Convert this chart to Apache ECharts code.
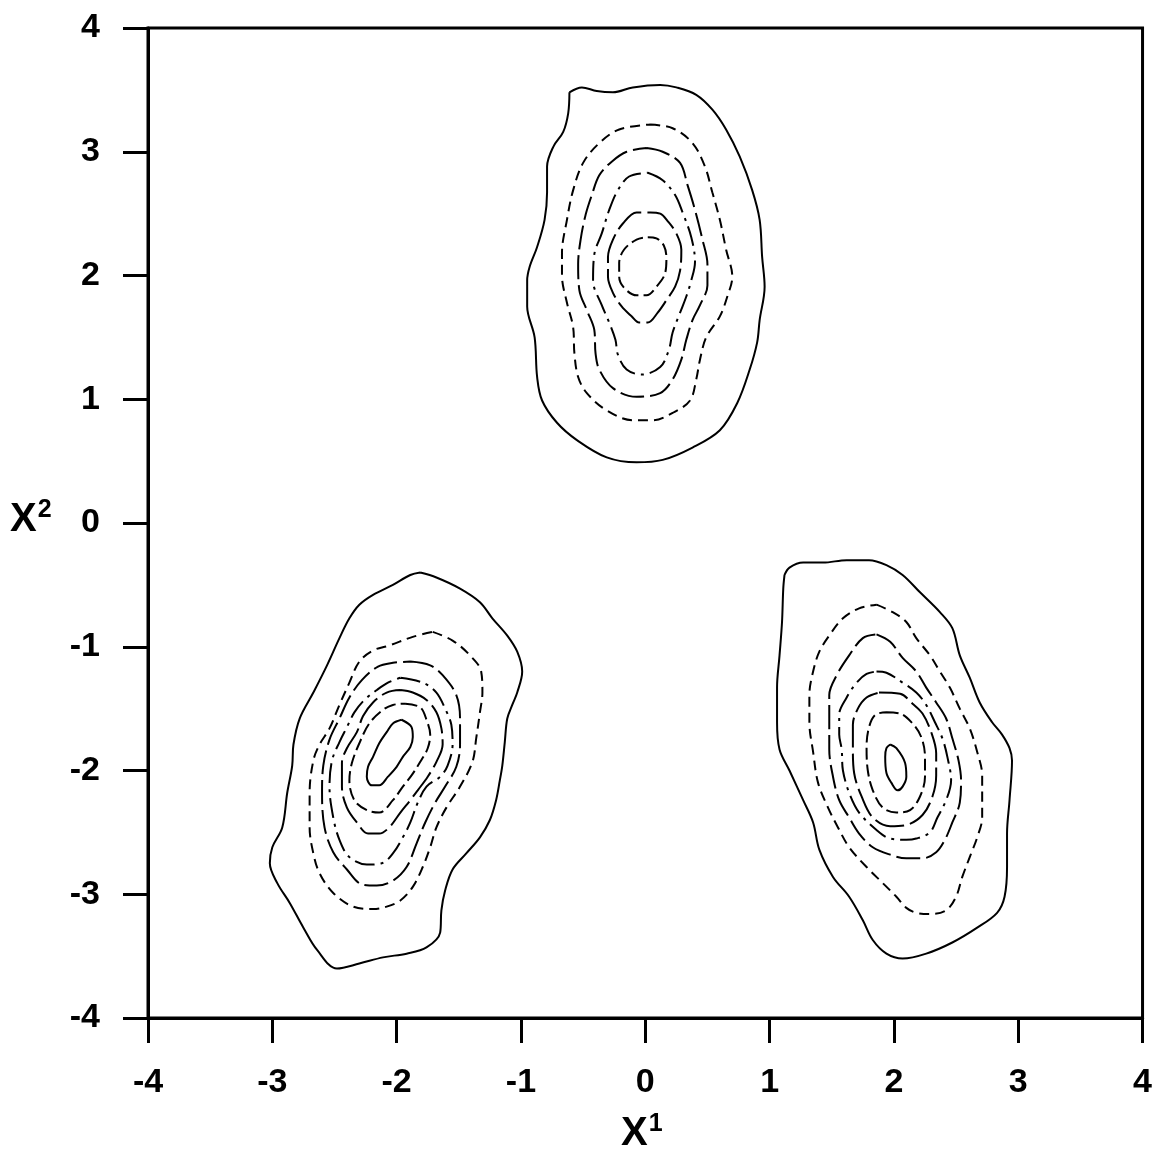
<!DOCTYPE html>
<html>
<head>
<meta charset="utf-8">
<script src="https://cdn.jsdelivr.net/npm/echarts@6/dist/echarts.min.js"></script>
<style>
html,body{margin:0;padding:0;background:#fff;}
#chart{width:1155px;height:1155px;}
</style>
</head>
<body>
<div id="chart"></div>
<script>
// Axis ticks
const xTicks = [-4, -3, -2, -1, 0, 1, 2, 3, 4];
const yTicks = [-4, -3, -2, -1, 0, 1, 2, 3, 4];
const xTitle = ['X', '1'];
const yTitle = ['X', '2'];

// Top cluster contours (outer -> inner), [x1, x2]
const topC1 = [[-0.61,3.48],[-0.51,3.52],[-0.39,3.49],[-0.26,3.48],[-0.10,3.52],[0.12,3.54],[0.25,3.52],[0.41,3.46],[0.54,3.34],[0.65,3.18],[0.76,2.96],[0.86,2.69],[0.92,2.45],[0.94,2.15],[0.96,1.91],[0.92,1.64],[0.90,1.46],[0.84,1.24],[0.74,0.97],[0.60,0.75],[0.38,0.61],[0.14,0.51],[-0.07,0.49],[-0.31,0.53],[-0.55,0.67],[-0.71,0.81],[-0.83,0.99],[-0.87,1.18],[-0.89,1.50],[-0.95,1.75],[-0.95,1.96],[-0.93,2.07],[-0.87,2.23],[-0.81,2.45],[-0.79,2.67],[-0.79,2.88],[-0.74,3.04],[-0.66,3.16],[-0.62,3.31]];
const topC2 = [[0.04,3.22],[0.22,3.19],[0.38,3.07],[0.48,2.88],[0.54,2.67],[0.60,2.45],[0.65,2.21],[0.70,1.99],[0.66,1.83],[0.60,1.67],[0.49,1.50],[0.44,1.32],[0.41,1.16],[0.36,0.99],[0.22,0.89],[0.06,0.83],[-0.10,0.83],[-0.31,0.91],[-0.47,1.05],[-0.54,1.18],[-0.57,1.37],[-0.58,1.58],[-0.63,1.78],[-0.67,2.00],[-0.67,2.18],[-0.63,2.45],[-0.58,2.69],[-0.50,2.91],[-0.37,3.07],[-0.21,3.18]];
const topC3 = [[0.01,3.03],[0.14,3.00],[0.28,2.91],[0.34,2.73],[0.40,2.53],[0.46,2.29],[0.50,2.09],[0.50,1.92],[0.44,1.76],[0.38,1.64],[0.33,1.48],[0.29,1.32],[0.22,1.16],[0.12,1.05],[-0.07,1.02],[-0.26,1.09],[-0.37,1.24],[-0.40,1.37],[-0.41,1.56],[-0.47,1.72],[-0.53,1.88],[-0.54,2.09],[-0.52,2.29],[-0.48,2.49],[-0.43,2.65],[-0.37,2.81],[-0.27,2.92],[-0.15,3.00]];
const topC4 = [[0.02,2.83],[0.14,2.77],[0.24,2.65],[0.30,2.51],[0.37,2.31],[0.40,2.11],[0.37,1.96],[0.33,1.83],[0.28,1.70],[0.22,1.54],[0.19,1.40],[0.12,1.26],[-0.03,1.20],[-0.15,1.24],[-0.22,1.36],[-0.24,1.48],[-0.29,1.62],[-0.35,1.76],[-0.42,1.96],[-0.41,2.17],[-0.35,2.34],[-0.29,2.53],[-0.22,2.69],[-0.13,2.80]];
const topC5 = [[0.04,2.51],[0.12,2.50],[0.18,2.44],[0.25,2.34],[0.29,2.21],[0.28,2.04],[0.24,1.91],[0.17,1.80],[0.10,1.70],[0.02,1.62],[-0.05,1.62],[-0.11,1.67],[-0.19,1.75],[-0.26,1.86],[-0.30,1.99],[-0.30,2.15],[-0.26,2.29],[-0.18,2.42],[-0.07,2.51]];
const topC6 = [[0.02,2.31],[0.09,2.30],[0.15,2.24],[0.17,2.14],[0.16,2.02],[0.09,1.91],[0.01,1.84],[-0.07,1.84],[-0.17,1.90],[-0.21,1.99],[-0.21,2.10],[-0.17,2.21],[-0.07,2.29]];

// Lower-left cluster contours
const leftC1 = [[-1.81,-0.40],[-1.68,-0.44],[-1.49,-0.53],[-1.33,-0.64],[-1.23,-0.77],[-1.11,-0.91],[-1.03,-1.04],[-0.99,-1.20],[-1.03,-1.37],[-1.07,-1.47],[-1.11,-1.58],[-1.13,-1.77],[-1.15,-1.96],[-1.17,-2.08],[-1.20,-2.24],[-1.25,-2.40],[-1.33,-2.54],[-1.44,-2.67],[-1.55,-2.80],[-1.61,-2.97],[-1.64,-3.13],[-1.65,-3.31],[-1.76,-3.43],[-1.92,-3.48],[-2.11,-3.51],[-2.30,-3.56],[-2.48,-3.60],[-2.64,-3.45],[-2.75,-3.27],[-2.86,-3.07],[-2.96,-2.91],[-3.02,-2.75],[-3.00,-2.62],[-2.92,-2.46],[-2.88,-2.18],[-2.84,-1.96],[-2.83,-1.79],[-2.78,-1.58],[-2.67,-1.37],[-2.56,-1.15],[-2.46,-0.93],[-2.38,-0.77],[-2.30,-0.66],[-2.19,-0.58],[-2.03,-0.50],[-1.89,-0.42]];
const leftC2 = [[-1.71,-0.88],[-1.55,-0.95],[-1.41,-1.07],[-1.32,-1.20],[-1.31,-1.37],[-1.33,-1.53],[-1.36,-1.74],[-1.39,-1.93],[-1.49,-2.13],[-1.60,-2.30],[-1.68,-2.46],[-1.73,-2.62],[-1.79,-2.78],[-1.87,-2.94],[-1.97,-3.05],[-2.08,-3.10],[-2.19,-3.12],[-2.35,-3.10],[-2.51,-2.99],[-2.62,-2.83],[-2.67,-2.67],[-2.70,-2.46],[-2.70,-2.18],[-2.67,-1.92],[-2.62,-1.79],[-2.54,-1.66],[-2.46,-1.47],[-2.38,-1.29],[-2.30,-1.12],[-2.19,-1.03],[-2.06,-0.99],[-1.87,-0.92]];
const leftC3 = [[-1.89,-1.12],[-1.73,-1.15],[-1.63,-1.23],[-1.52,-1.39],[-1.49,-1.58],[-1.49,-1.79],[-1.52,-1.97],[-1.61,-2.13],[-1.69,-2.26],[-1.77,-2.42],[-1.84,-2.59],[-1.92,-2.78],[-2.03,-2.89],[-2.16,-2.93],[-2.28,-2.92],[-2.40,-2.80],[-2.51,-2.66],[-2.58,-2.46],[-2.60,-2.18],[-2.59,-1.96],[-2.54,-1.75],[-2.46,-1.58],[-2.38,-1.41],[-2.28,-1.27],[-2.15,-1.16],[-2.03,-1.13]];
const leftC4 = [[-1.97,-1.25],[-1.79,-1.29],[-1.68,-1.37],[-1.61,-1.50],[-1.56,-1.63],[-1.55,-1.79],[-1.59,-1.96],[-1.65,-2.05],[-1.76,-2.13],[-1.83,-2.26],[-1.89,-2.42],[-1.95,-2.54],[-2.03,-2.67],[-2.12,-2.75],[-2.24,-2.76],[-2.38,-2.70],[-2.46,-2.56],[-2.51,-2.38],[-2.54,-2.13],[-2.52,-1.92],[-2.46,-1.77],[-2.40,-1.65],[-2.34,-1.53],[-2.26,-1.43],[-2.16,-1.35],[-2.07,-1.29]];
const leftC5 = [[-1.97,-1.35],[-1.87,-1.37],[-1.76,-1.43],[-1.68,-1.53],[-1.64,-1.66],[-1.63,-1.79],[-1.68,-1.93],[-1.75,-2.05],[-1.83,-2.16],[-1.89,-2.24],[-1.97,-2.34],[-2.06,-2.46],[-2.14,-2.51],[-2.23,-2.51],[-2.32,-2.42],[-2.40,-2.30],[-2.44,-2.13],[-2.44,-1.94],[-2.40,-1.82],[-2.32,-1.69],[-2.27,-1.56],[-2.19,-1.45],[-2.08,-1.37]];
const leftC6 = [[-1.93,-1.46],[-1.81,-1.49],[-1.76,-1.59],[-1.73,-1.71],[-1.75,-1.82],[-1.81,-1.93],[-1.88,-2.04],[-1.95,-2.13],[-2.03,-2.24],[-2.14,-2.34],[-2.24,-2.32],[-2.34,-2.24],[-2.38,-2.08],[-2.36,-1.94],[-2.30,-1.78],[-2.22,-1.62],[-2.11,-1.51],[-2.03,-1.47]];
const leftC7 = [[-1.96,-1.59],[-1.88,-1.65],[-1.87,-1.73],[-1.89,-1.81],[-1.95,-1.89],[-2.00,-1.97],[-2.07,-2.05],[-2.14,-2.12],[-2.20,-2.12],[-2.24,-2.05],[-2.23,-1.97],[-2.19,-1.89],[-2.14,-1.78],[-2.08,-1.69],[-2.03,-1.62]];

// Lower-right cluster contours
const rightC1 = [[1.12,-0.42],[1.16,-0.36],[1.27,-0.32],[1.43,-0.32],[1.62,-0.30],[1.80,-0.30],[1.94,-0.34],[2.07,-0.42],[2.21,-0.56],[2.37,-0.72],[2.47,-0.85],[2.53,-1.07],[2.61,-1.25],[2.69,-1.45],[2.79,-1.61],[2.87,-1.71],[2.93,-1.82],[2.95,-1.92],[2.93,-2.24],[2.91,-2.51],[2.91,-2.78],[2.89,-3.02],[2.83,-3.15],[2.67,-3.27],[2.47,-3.39],[2.26,-3.48],[2.07,-3.52],[1.94,-3.48],[1.83,-3.37],[1.75,-3.21],[1.64,-3.02],[1.51,-2.86],[1.40,-2.64],[1.35,-2.42],[1.27,-2.24],[1.16,-2.00],[1.08,-1.83],[1.06,-1.61],[1.06,-1.33],[1.08,-1.07],[1.10,-0.80],[1.11,-0.53]];
const rightC2 = [[1.86,-0.66],[1.99,-0.72],[2.10,-0.80],[2.18,-0.93],[2.29,-1.07],[2.37,-1.20],[2.45,-1.33],[2.53,-1.50],[2.61,-1.66],[2.67,-1.85],[2.71,-2.04],[2.71,-2.20],[2.71,-2.38],[2.67,-2.54],[2.61,-2.70],[2.55,-2.86],[2.50,-3.02],[2.42,-3.13],[2.29,-3.16],[2.18,-3.15],[2.10,-3.11],[2.02,-3.02],[1.91,-2.91],[1.78,-2.78],[1.64,-2.62],[1.55,-2.46],[1.47,-2.30],[1.39,-2.10],[1.35,-1.85],[1.32,-1.61],[1.32,-1.39],[1.35,-1.20],[1.40,-1.04],[1.48,-0.91],[1.59,-0.77],[1.72,-0.69]];
const rightC3 = [[1.86,-0.90],[1.97,-0.96],[2.07,-1.09],[2.18,-1.20],[2.26,-1.33],[2.34,-1.45],[2.42,-1.58],[2.47,-1.74],[2.52,-1.92],[2.54,-2.08],[2.53,-2.26],[2.47,-2.42],[2.41,-2.56],[2.34,-2.66],[2.23,-2.71],[2.10,-2.71],[1.97,-2.68],[1.83,-2.62],[1.72,-2.51],[1.64,-2.38],[1.56,-2.24],[1.51,-2.05],[1.48,-1.83],[1.48,-1.61],[1.48,-1.39],[1.54,-1.23],[1.64,-1.07],[1.75,-0.93]];
const rightC4 = [[1.86,-1.20],[1.94,-1.21],[2.07,-1.29],[2.18,-1.37],[2.26,-1.47],[2.33,-1.61],[2.39,-1.74],[2.43,-1.89],[2.46,-2.08],[2.42,-2.24],[2.35,-2.38],[2.29,-2.50],[2.18,-2.55],[2.10,-2.56],[1.97,-2.55],[1.86,-2.48],[1.72,-2.34],[1.64,-2.18],[1.59,-2.00],[1.58,-1.83],[1.56,-1.71],[1.56,-1.55],[1.62,-1.41],[1.70,-1.29],[1.78,-1.22]];
const rightC5 = [[1.88,-1.37],[2.05,-1.38],[2.15,-1.46],[2.23,-1.54],[2.30,-1.69],[2.34,-1.86],[2.34,-2.04],[2.31,-2.21],[2.23,-2.36],[2.10,-2.44],[1.97,-2.45],[1.83,-2.38],[1.74,-2.21],[1.68,-2.02],[1.67,-1.83],[1.67,-1.63],[1.71,-1.50],[1.78,-1.41]];
const rightC6 = [[1.94,-1.53],[2.05,-1.54],[2.15,-1.62],[2.22,-1.73],[2.25,-1.89],[2.25,-2.05],[2.21,-2.21],[2.13,-2.32],[2.02,-2.34],[1.91,-2.30],[1.83,-2.16],[1.79,-2.00],[1.78,-1.81],[1.80,-1.65],[1.85,-1.55]];
const rightC7 = [[1.97,-1.79],[2.02,-1.82],[2.09,-1.94],[2.10,-2.05],[2.07,-2.13],[2.03,-2.16],[1.98,-2.10],[1.94,-2.02],[1.93,-1.89],[1.94,-1.82]];

// contour level index of each ring (0 = outermost)
const contours = [
  [topC1,0],[topC2,1],[topC3,2],[topC4,3],[topC5,4],[topC6,5],
  [leftC1,0],[leftC2,1],[leftC3,2],[leftC4,3],[leftC5,4],[leftC6,5],[leftC7,6],
  [rightC1,0],[rightC2,1],[rightC3,2],[rightC4,3],[rightC5,4],[rightC6,5],[rightC7,6]
];

// line style per contour level
const levelDash = ['solid', [10,6], [24,6], [20,6,3,6], [30,6], [12,5], 'solid'];

const FONT = '"Liberation Sans", Arial, Helvetica, sans-serif';

const series = contours.map(function(c){
  const pts = c[0];
  return {
    type: 'line',
    data: pts.concat([pts[0]]),
    showSymbol: false,
    symbol: 'none',
    smooth: 0.35,
    silent: true,
    animation: false,
    lineStyle: { color: '#000', width: 2, type: levelDash[c[1]] }
  };
});

const chart = echarts.init(document.getElementById('chart'), null, {renderer: 'canvas'});
chart.setOption({
  backgroundColor: '#fff',
  animation: false,
  grid: { left: 148, top: 28, right: 12, bottom: 137, show: true, borderColor: '#000', borderWidth: 3, backgroundColor: 'transparent' },
  xAxis: {
    type: 'value', min: xTicks[0], max: xTicks[xTicks.length-1], interval: 1,
    splitLine: { show: false },
    axisLine: { show: true, onZero: false, lineStyle: { color: '#000', width: 3 } },
    axisTick: { show: true, inside: false, length: 25, lineStyle: { color: '#000', width: 3 } },
    axisLabel: { color: '#000', fontSize: 34, fontWeight: 'bold', fontFamily: FONT, margin: 48 }
  },
  yAxis: {
    type: 'value', min: yTicks[0], max: yTicks[yTicks.length-1], interval: 1,
    splitLine: { show: false },
    axisLine: { show: true, onZero: false, lineStyle: { color: '#000', width: 3 } },
    axisTick: { show: true, inside: false, length: 25, lineStyle: { color: '#000', width: 3 } },
    axisLabel: { color: '#000', fontSize: 34, fontWeight: 'bold', fontFamily: FONT, margin: 48 }
  },
  graphic: [
    { type: 'text', left: 621, top: 1112, silent: true,
      style: { text: '{a|' + xTitle[0] + '}{b|' + xTitle[1] + '}', fill: '#000',
        rich: { a: { fontSize: 40, fontWeight: 'bold', fontFamily: FONT, lineHeight: 44 },
                b: { fontSize: 25, fontWeight: 'bold', fontFamily: FONT, lineHeight: 44, verticalAlign: 'top', padding: [0,0,16,1] } } } },
    { type: 'text', left: 10, top: 498, silent: true,
      style: { text: '{a|' + yTitle[0] + '}{b|' + yTitle[1] + '}', fill: '#000',
        rich: { a: { fontSize: 40, fontWeight: 'bold', fontFamily: FONT, lineHeight: 44 },
                b: { fontSize: 25, fontWeight: 'bold', fontFamily: FONT, lineHeight: 44, verticalAlign: 'top', padding: [0,0,16,1] } } } }
  ],
  series: series
});
</script>
</body>
</html>
